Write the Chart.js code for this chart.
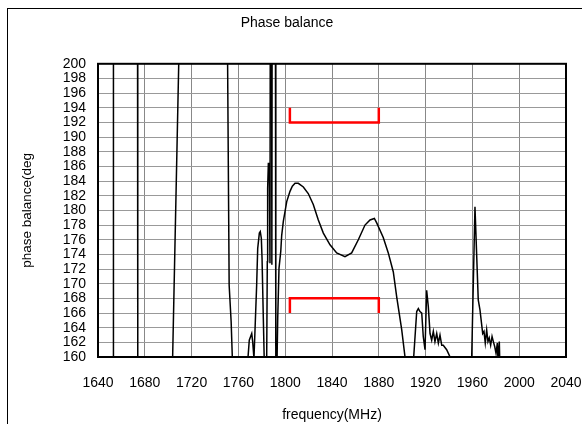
<!DOCTYPE html>
<html>
<head>
<meta charset="utf-8">
<script src="https://cdn.jsdelivr.net/npm/chart.js@4.4.0/dist/chart.umd.min.js"></script>
<style>
  html, body { margin: 0; padding: 0; background: #fff; }
  #wrap { width: 582px; height: 424px; }
</style>
</head>
<body>
<div id="wrap"><canvas id="phaseChart" width="582" height="424"></canvas></div>
<script>
// measured trace (values outside 160..200 are wrapped phase, clipped by the axis)
const freqMHz = [
    1640, 1653.0, 1653.2, 1673.8, 1674.0, 1703.15, 1709.65, 1750.6, 1752.1, 1753.8, 1755.2,
    1767.3, 1769.3, 1771.4, 1772.2, 1773.3, 1775.6, 1776.5, 1777.9, 1778.7, 1779.6, 1780.2, 1781.3, 1782.3, 1783.8,
    1784.2, 1784.7, 1785.0, 1785.6, 1786.4, 1787.0, 1787.3, 1788.3, 1788.6, 1788.9, 1791.6, 1792.0, 1792.6,
    1793.6, 1794.7, 1796.2, 1797.0, 1798.4, 1799.8, 1801.3, 1804.1, 1806.1, 1808.4,
    1811.2, 1815.5, 1819.7, 1824.0, 1828.3, 1832.6, 1838.3, 1844.0, 1851.1, 1856.8,
    1862.5, 1868.2, 1872.5, 1876.2, 1878.2, 1883.8, 1888.1, 1892.4, 1895.3, 1899.6, 1902.4, 1903.5,
    1909.0, 1912.4, 1913.8, 1915.2, 1916.7, 1918.0, 1919.5, 1920.9, 1922.3, 1923.8,
    1925.2, 1926.6, 1928.0, 1929.5, 1930.9, 1932.3, 1933.8, 1935.1, 1938.0, 1940.9, 1942.3,
    1959.0, 1959.4, 1962.2, 1965.0, 1966.5, 1968.8, 1969.9, 1971.0, 1972.2, 1973.3,
    1974.4, 1975.6, 1976.8, 1977.9, 1979.1, 1980.2, 1981.3, 1981.9, 1983.0, 1983.6, 2040
];
const phaseDeg = [
    150, 155, 205, 205, 155, 155, 205, 204, 169.8, 164.8, 158,
    158, 162.3, 163.2, 162.1, 159.8, 169.8, 174.8, 176.9, 177.1, 176.2, 173.5, 165.3, 158, 158,
    160.3, 173, 183, 186.4, 186.4, 172.8, 215, 215, 172.6, 215, 215, 155, 155,
    165.2, 172.1, 174.4, 176.6, 178.5, 179.8, 181.2, 182.6, 183.3, 183.7,
    183.7, 183.2, 182.3, 180.8, 178.7, 176.9, 175.3, 174.2, 173.7, 174.2,
    176.0, 178.0, 178.7, 178.9, 178.3, 176.3, 174.2, 171.6, 168.2, 163.7, 160, 158,
    158, 166.2, 166.6, 166.2, 166.0, 162.8, 161, 169.1, 166.9, 163.2,
    162.3, 163.5, 162.1, 163.2, 161.9, 163, 161.6, 161.6, 161, 160, 158.5,
    158, 160, 180.5, 167.8, 166.4, 163.2, 163.5, 161.9, 163.7, 162.1,
    162.6, 161.6, 162.8, 162.1, 161.4, 160.5, 161.9, 159.5, 162.1, 158, 158
];

// spec limit brackets (red)
const limitFreq = [1804, 1804, 1880, 1880];
const upperLimit = [194, 192, 192, 194];
const lowerLimit = [166, 168, 168, 166];

const xTicks = [1640, 1680, 1720, 1760, 1800, 1840, 1880, 1920, 1960, 2000, 2040];
const yMin = 160, yMax = 200, yStep = 2;

const toPoints = (xs, ys) => xs.map((x, i) => ({ x, y: ys[i] }));
const FONT = '"Liberation Sans", Arial, sans-serif';

const frame = {
    id: 'frame',
    beforeDraw(chart) {
        const ctx = chart.ctx;
        ctx.save();
        ctx.strokeStyle = '#000';
        ctx.lineWidth = 1;
        ctx.strokeRect(7.5, 8.5, 800, 800);
        ctx.restore();
    },
    afterDatasetsDraw(chart) {
        const { ctx, chartArea: a } = chart;
        ctx.save();
        ctx.strokeStyle = '#000';
        ctx.lineWidth = 2;
        ctx.strokeRect(a.left, a.top, a.right - a.left, a.bottom - a.top);
        ctx.restore();
    }
};

new Chart(document.getElementById('phaseChart').getContext('2d'), {
    type: 'line',
    data: {
        datasets: [
            { data: toPoints(freqMHz, phaseDeg), borderColor: '#000', borderWidth: 1.5, clip: 0 },
            { data: toPoints(limitFreq, upperLimit), borderColor: '#ff0000', borderWidth: 2.5 },
            { data: toPoints(limitFreq, lowerLimit), borderColor: '#ff0000', borderWidth: 2.5 },
        ]
    },
    options: {
        responsive: false,
        animation: false,
        devicePixelRatio: 1,
        layout: { padding: { left: 8, right: 16, top: 8, bottom: 0 } },
        elements: { point: { radius: 0 }, line: { tension: 0 } },
        plugins: {
            legend: { display: false },
            tooltip: { enabled: false },
            title: {
                display: true,
                text: 'Phase balance',
                color: '#000',
                font: { family: FONT, size: 14, weight: 'normal' },
                padding: { top: 7, bottom: 32 }
            }
        },
        scales: {
            x: {
                type: 'linear',
                min: 1640, max: 2040,
                afterBuildTicks: s => { s.ticks = xTicks.map(v => ({ value: v })); },
                afterFit: s => { s.height = 67; s.paddingLeft = 0; s.paddingRight = 0; },
                grid: { color: '#888888', lineWidth: 1, drawTicks: false },
                border: { display: false },
                ticks: {
                    color: '#000', padding: 18, maxRotation: 0, autoSkip: false,
                    font: { family: FONT, size: 14 },
                    callback: v => String(v)
                },
                title: {
                    display: true, text: 'frequency(MHz)', color: '#000',
                    font: { family: FONT, size: 14 }, padding: { top: 4, bottom: 0 }
                }
            },
            y: {
                min: yMin, max: yMax,
                ticks: {
                    stepSize: yStep, color: '#000', padding: 12, autoSkip: false,
                    font: { family: FONT, size: 14 },
                    callback: v => String(v)
                },
                afterFit: s => { s.width = 90; s.paddingTop = 0; s.paddingBottom = 0; },
                grid: { color: '#999999', lineWidth: 1, drawTicks: false },
                border: { display: false },
                title: {
                    display: true, text: 'phase balance(deg', color: '#000',
                    font: { family: FONT, size: 13.5 }, padding: { top: 11, bottom: 0 }
                }
            }
        }
    },
    plugins: [frame]
});
</script>
</body>
</html>
